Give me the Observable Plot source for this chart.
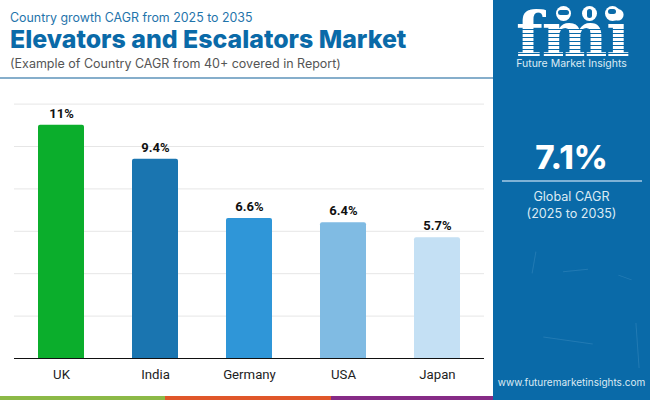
<!DOCTYPE html>
<html><head><meta charset="utf-8">
<script src="https://cdn.jsdelivr.net/npm/d3@7"></script>
<script src="https://cdn.jsdelivr.net/npm/@observablehq/plot@0.6"></script>
<style>
html,body{margin:0;padding:0;background:#fff}
#wrap{position:relative;width:650px;height:400px;overflow:hidden;font-family:Inter,"Open Sans",sans-serif}
#chart{position:absolute;left:0;top:0}
.t{position:absolute;white-space:nowrap}
#panel{position:absolute;left:493px;top:0;width:157px;height:400px;background:#0a6aa8;overflow:hidden}
.globe{position:absolute;top:6px;width:15px;height:15px;border-radius:50%;background:#fff}
.globe i{position:absolute;background:#0a6aa8;display:block}
.fleck{position:absolute;background:#5a9fcc;opacity:.3;height:1px}
</style></head><body>
<div id="wrap">
<div id="chart"></div>
<div class="t" style="left:10px;top:10px;font-size:12.4px;color:#1f74ab;">Country growth CAGR from 2025 to 2035</div>
<div class="t" style="left:10px;top:24px;font-size:24.9px;font-weight:800;color:#0a6aa8;">Elevators and Escalators Market</div>
<div class="t" style="left:10px;top:56px;font-size:12.5px;color:#555;">(Example of Country CAGR from 40+ covered in Report)</div>
<div style="position:absolute;left:0;top:77px;width:493px;height:2px;background:#86aecb"></div>
<div id="panel">
<div class="t" style="left:23px;top:12px;font-family:'DejaVu Serif',serif;font-weight:700;font-size:62px;line-height:46px;color:#fff;letter-spacing:-1px">fmi</div>
<div style="position:absolute;left:20px;top:26px;width:120px;height:32px;background:repeating-linear-gradient(to bottom,transparent 0,transparent 3px,#0a6aa8 3px,#0a6aa8 4px)"></div>
<div class="globe" style="left:63px"><i style="left:2px;top:4px;width:11px;height:5px;border-radius:3px"></i></div>
<div class="globe" style="left:89px"><i style="left:5px;top:3px;width:5px;height:9px;border-radius:3px"></i></div>
<div class="globe" style="left:112px"><i style="left:3px;top:3px;width:8px;height:5px;border-radius:3px"></i></div>
<div class="t" style="left:0;width:157px;text-align:center;top:58px;font-size:10.5px;line-height:12px;color:#dceaf4">Future Market Insights</div>
<div class="t" style="left:0;width:157px;text-align:center;top:137px;font-size:33px;font-weight:800;color:#fff">7.1%</div>
<div style="position:absolute;left:9px;top:180px;width:140px;height:2px;background:#7fb2d6"></div>
<div class="t" style="left:0;width:157px;text-align:center;top:189px;font-size:12.6px;line-height:16.5px;color:#dceaf4">Global CAGR<br>(2025 to 2035)</div>
<div class="fleck" style="left:30px;top:262px;width:22px;transform:rotate(-80deg)"></div>
<div class="fleck" style="left:50px;top:340px;width:50px;transform:rotate(8deg)"></div>
<div class="fleck" style="left:122px;top:345px;width:45px;transform:rotate(86deg)"></div>
<div class="fleck" style="left:125px;top:277px;width:14px;transform:rotate(20deg)"></div>
<div class="fleck" style="left:70px;top:270px;width:25px;transform:rotate(-6deg)"></div>
<div class="t" style="left:0;width:157px;text-align:center;top:376px;font-size:10px;color:#dceaf4">www.futuremarketinsights.com</div>
</div>
<div style="position:absolute;left:0;top:396px;width:165px;height:4px;background:#8cb947"></div>
<div style="position:absolute;left:165px;top:396px;width:166px;height:4px;background:#e0572a"></div>
<div style="position:absolute;left:331px;top:396px;width:162px;height:4px;background:#862b86"></div>
</div>
<script>
const countries = ["UK","India","Germany","USA","Japan"];
const cagr = [11,9.4,6.6,6.4,5.7];
const labels = ["11%","9.4%","6.6%","6.4%","5.7%"];
const colors = ["#0bae2c","#1a75b0","#2f96d8","#80bbe3","#c4e0f4"];
const gridTicks = [2,4,6,8,10,12];
const rows = countries.map((c,i)=>({country:c,value:cagr[i],label:labels[i]}));
const chart = Plot.plot({
  width:650,height:400,
  marginLeft:14,marginRight:166,marginTop:103.6,marginBottom:42,
  style:{fontFamily:"Roboto,sans-serif",background:"transparent"},
  x:{domain:countries,paddingInner:0.51,paddingOuter:0.255,align:0.5,label:null},
  y:{domain:[0,12],axis:null},
  color:{domain:countries,range:colors},
  marks:[
    Plot.ruleY(gridTicks,{stroke:"#e6e6e6",strokeWidth:1,strokeOpacity:1}),
    Plot.barY(rows,{x:"country",y:"value",fill:"country",ry1:2,rx:2}),
    Plot.ruleY([0],{stroke:"#111",strokeWidth:1.2}),
    Plot.text(rows,{x:"country",y:"value",text:"label",dy:-11.5,fontWeight:700,fontSize:13,fill:"#111"}),
    Plot.axisX({tickSize:0,tickPadding:11,fontSize:13.2,fill:"#222",label:null})
  ]
});
document.getElementById("chart").append(chart);
</script>
</body></html>
